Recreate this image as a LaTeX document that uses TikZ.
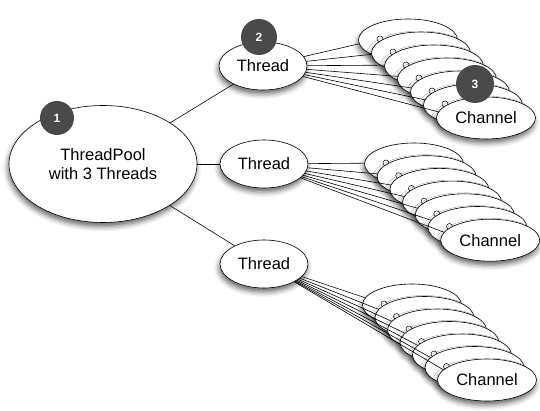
\documentclass[tikz,border=0pt]{standalone}
\usepackage{fontspec}
\setmainfont{Liberation Sans}
\usetikzlibrary{shapes.geometric,shadows.blur}
\definecolor{BadgeClr}{rgb}{0.29,0.29,0.29}

\tikzset{
  shadeell/.style={ellipse,draw,line width=0.6pt,fill=white,inner sep=0pt,
    blur shadow={shadow xshift=-1pt,shadow yshift=-4pt,shadow blur radius=5pt,shadow opacity=60}},
  poolnode/.style={shadeell,minimum width=188pt,minimum height=117pt,align=center},
  threadnode/.style={shadeell,minimum width=88pt,minimum height=48pt},
  channode/.style={shadeell,minimum width=99pt,minimum height=42pt},
  badge/.style={circle,fill=BadgeClr,text=white,inner sep=0pt,minimum size=#1,
    font=\fontsize{12}{14}\selectfont\bfseries},
  badge/.default=30pt,
  portnode/.style={circle,draw,line width=0.5pt,inner sep=0pt,minimum size=6pt},
  wire/.style={line width=0.6pt}
}

\begin{document}
\begin{tikzpicture}[x=1pt,y=-1pt,font=\fontsize{16.5}{19.5}\selectfont]
\useasboundingbox (0,0) rectangle (540,411);

% pool and threads
\node[poolnode] (pool) at (103,164) {ThreadPool\\with 3 Threads};
\node[threadnode] (tA) at (263,66) {Thread};
\node[threadnode] (tB) at (264,164) {Thread};
\node[threadnode] (tC) at (264,264) {Thread};

\draw[wire] (pool) -- (tA);
\draw[wire] (pool) -- (tB);
\draw[wire] (pool) -- (tC);

% channel stacks, back to front
\foreach \sx/\sy/\d/\t/\k in {408/40/13/tA/a,414/164/12.7/tB/b,412/305/12.5/tC/c}{
  \foreach \i in {1,...,7}{
    \coordinate (p\k\i) at ({\sx+\d*(\i-1)-28},{\sy+\d*(\i-1)-1});
    \draw[wire] (\t) -- (p\k\i);
    \node[channode] (c\k\i) at ({\sx+\d*(\i-1)},{\sy+\d*(\i-1)}) {\ifnum\i=7 Channel\fi};
    \ifnum\i<7 \node[portnode] (q\k\i) at (p\k\i) {};\fi
  }
}

% numbered badges
\node[badge=34pt] (n1) at (57,118) {1};
\node[badge=36pt] (n2) at (259,37) {2};
\node[badge=38pt] (n3) at (475,84) {3};
\end{tikzpicture}
\end{document}
